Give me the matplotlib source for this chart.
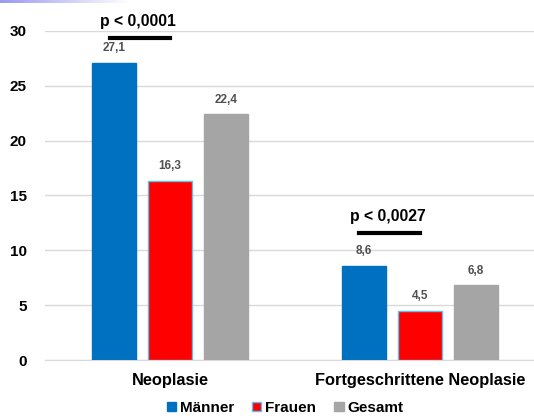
import numpy as np
import matplotlib
matplotlib.use("Agg")
import matplotlib.pyplot as plt
from matplotlib.patches import Patch

categories = ["Neoplasie", "Fortgeschrittene Neoplasie"]
series = ["Männer", "Frauen", "Gesamt"]
maenner = [27.1, 8.6]
frauen = [16.3, 4.5]
gesamt = [22.4, 6.8]
p_labels = ["p < 0,0001", "p < 0,0027"]
y_ticks = [0, 5, 10, 15, 20, 25, 30]

colors = ["#0070C0", "#FF0000", "#A5A5A5"]
edges = ["#0070C0", "#5BC0EB", "#A5A5A5"]

plt.rcParams['font.family'] = ['Liberation Sans', 'DejaVu Sans']

fig = plt.figure(figsize=(5.34, 4.19), dpi=100)
W, H = 534, 419
ax = fig.add_axes([45 / W, 1 - 360 / H, 489 / W, 329 / H])

x = np.arange(len(categories))
width = 0.176
step = 0.224
for i, (vals, name) in enumerate(zip([maenner, frauen, gesamt], series)):
    pos = x + (i - 1) * step
    ax.bar(pos, vals, width, color=colors[i], edgecolor=edges[i], linewidth=1, zorder=3, label=name)
    for px, v in zip(pos, vals):
        ax.text(px, v + 0.8, f"{v:.1f}".replace(".", ","), ha="center", va="bottom",
                fontsize=8.5, fontweight="bold", color="#505050")

ax.set_xlim(-0.5, -0.5 + 489 / 250)
ax.set_ylim(0, 30)
ax.set_yticks(y_ticks)
ax.set_yticklabels([str(t) for t in y_ticks], fontsize=11, fontweight="bold")
ax.set_xticks(x)
ax.set_xticklabels(categories, fontsize=11.8, fontweight="bold")
ax.tick_params(length=0, pad=9)
ax.tick_params(axis="y", pad=13)
ax.grid(axis="y", color="#D9D9D9", linewidth=1, zorder=0)
for s in ["top", "right", "left"]:
    ax.spines[s].set_visible(False)
ax.spines["bottom"].set_color("#D9D9D9")

# significance markers
ax.text(-0.128, 30.2, p_labels[0], ha="center", va="bottom", fontsize=11.3, fontweight="bold", clip_on=False)
ax.plot([-0.24, 0.0], [29.4, 29.4], color="black", linewidth=3, clip_on=False)
ax.text(0.872, 12.4, p_labels[1], ha="center", va="bottom", fontsize=11.3, fontweight="bold")
ax.plot([0.756, 1.0], [11.6, 11.6], color="black", linewidth=3)

handles = [Patch(facecolor=colors[i], edgecolor=edges[i]) for i in range(3)]
fig.legend(handles, series, loc="center", bbox_to_anchor=(285 / W, 1 - 408 / H), ncol=3,
           frameon=False, prop={"weight": "bold", "size": 11}, handlelength=0.6,
           handleheight=0.6, handletextpad=0.25, columnspacing=1.2)

# faint band top-left
band = fig.add_axes([0, 1 - 3 / H, 130 / W, 3 / H])
grad = np.linspace(0, 1, 100)[None, :]
band.imshow(grad, aspect="auto", cmap=matplotlib.colors.LinearSegmentedColormap.from_list("b", ["#9A9AF0", "#FFFFFF"]))
band.axis("off")

fig.savefig("out.png", dpi=100)
